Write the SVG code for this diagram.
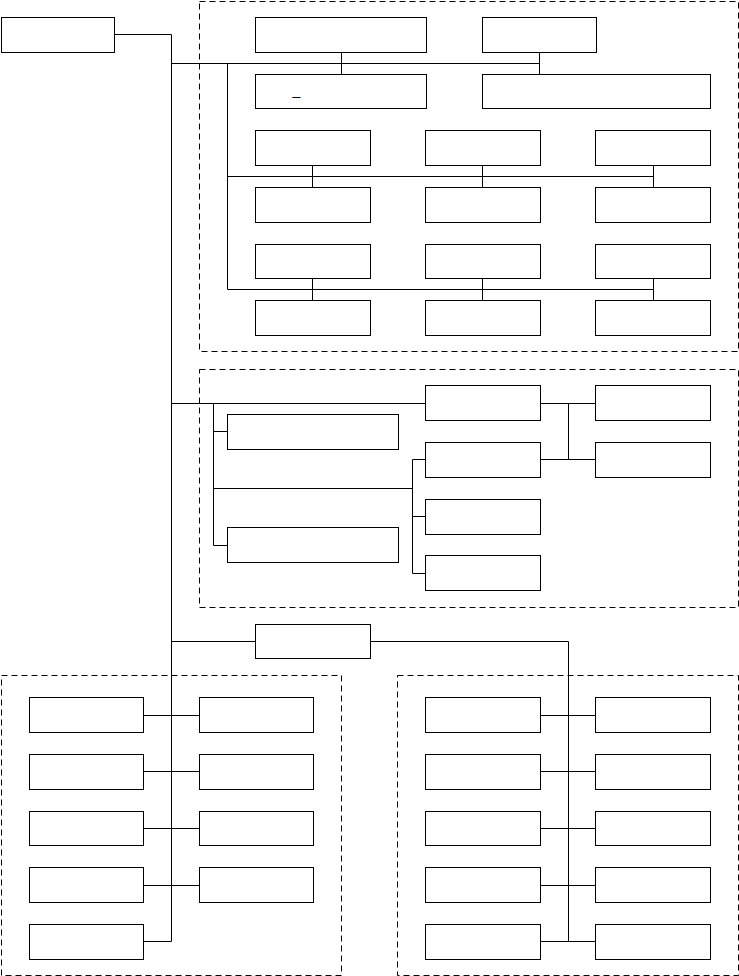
<svg xmlns="http://www.w3.org/2000/svg" width="739" height="976" viewBox="0 0 739 976">
<style>
.n{fill:#fff;stroke:#000;stroke-width:1}
.g{fill:none;stroke:#000;stroke-width:1;stroke-dasharray:6,4}
.c{fill:none;stroke:#000;stroke-width:1}
.t{font-family:"Liberation Sans",Arial,sans-serif;font-size:14px;fill:#000}
</style>
<rect width="739" height="976" fill="#fff"/>
<g id="groups">
<rect class="g" x="199.5" y="1.5" width="539" height="350"/>
<rect class="g" x="199.5" y="369.5" width="539" height="238"/>
<rect class="g" x="1.5" y="675.5" width="340" height="300"/>
<rect class="g" x="397.5" y="675.5" width="341" height="300"/>
</g>
<g id="connectors" class="c">
<path d="M114.5 34.5H171.5V941.5"/>
<path d="M171.5 63.5H539.5M341.5 52.5V74.5M539.5 52.5V74.5"/>
<path d="M227.5 63.5V289.5"/>
<path d="M227.5 176.5H653.5M312.5 165.5V187.5M482.5 165.5V187.5M653.5 165.5V187.5"/>
<path d="M227.5 289.5H653.5M312.5 278.5V300.5M482.5 278.5V300.5M653.5 278.5V300.5"/>
<path d="M171.5 403.5H425.5"/>
<path d="M213.5 403.5V545.5M213.5 431.5H227.5M213.5 545.5H227.5M213.5 488.5H412.5"/>
<path d="M412.5 459.5V573.5M412.5 459.5H425.5M412.5 516.5H425.5M412.5 573.5H425.5"/>
<path d="M540.5 403.5H595.5M568.5 403.5V459.5M540.5 459.5H595.5"/>
<path d="M171.5 641.5H255.5M370.5 641.5H568.5V941.5"/>
<path d="M143.5 715.5H199.5M143.5 771.5H199.5M143.5 828.5H199.5M143.5 885.5H199.5M143.5 941.5H171.5"/>
<path d="M540.5 715.5H595.5M540.5 771.5H595.5M540.5 828.5H595.5M540.5 885.5H595.5M540.5 941.5H595.5"/>
</g>
<g id="n0"><rect class="n" x="1.5" y="17.5" width="113" height="35"/></g>
<g id="n1"><rect class="n" x="255.5" y="17.5" width="171" height="35"/></g>
<g id="n2"><rect class="n" x="482.5" y="17.5" width="114" height="35"/></g>
<g id="n3"><rect class="n" x="255.5" y="74.5" width="171" height="34"/><text class="t" x="292.5" y="94.5">_</text></g>
<g id="n4"><rect class="n" x="482.5" y="74.5" width="228" height="34"/></g>
<g id="n5"><rect class="n" x="255.5" y="130.5" width="115" height="35"/></g>
<g id="n6"><rect class="n" x="425.5" y="130.5" width="115" height="35"/></g>
<g id="n7"><rect class="n" x="595.5" y="130.5" width="115" height="35"/></g>
<g id="n8"><rect class="n" x="255.5" y="187.5" width="115" height="35"/></g>
<g id="n9"><rect class="n" x="425.5" y="187.5" width="115" height="35"/></g>
<g id="n10"><rect class="n" x="595.5" y="187.5" width="115" height="35"/></g>
<g id="n11"><rect class="n" x="255.5" y="244.5" width="115" height="34"/></g>
<g id="n12"><rect class="n" x="425.5" y="244.5" width="115" height="34"/></g>
<g id="n13"><rect class="n" x="595.5" y="244.5" width="115" height="34"/></g>
<g id="n14"><rect class="n" x="255.5" y="300.5" width="115" height="35"/></g>
<g id="n15"><rect class="n" x="425.5" y="300.5" width="115" height="35"/></g>
<g id="n16"><rect class="n" x="595.5" y="300.5" width="115" height="35"/></g>
<g id="n17"><rect class="n" x="425.5" y="385.5" width="115" height="35"/></g>
<g id="n18"><rect class="n" x="595.5" y="385.5" width="115" height="35"/></g>
<g id="n19"><rect class="n" x="227.5" y="414.5" width="171" height="35"/></g>
<g id="n20"><rect class="n" x="425.5" y="442.5" width="115" height="35"/></g>
<g id="n21"><rect class="n" x="595.5" y="442.5" width="115" height="35"/></g>
<g id="n22"><rect class="n" x="425.5" y="499.5" width="115" height="35"/></g>
<g id="n23"><rect class="n" x="227.5" y="527.5" width="171" height="35"/></g>
<g id="n24"><rect class="n" x="425.5" y="555.5" width="115" height="35"/></g>
<g id="n25"><rect class="n" x="255.5" y="624.5" width="115" height="34"/></g>
<g id="n26"><rect class="n" x="29.5" y="697.5" width="114" height="35"/></g>
<g id="n27"><rect class="n" x="199.5" y="697.5" width="114" height="35"/></g>
<g id="n28"><rect class="n" x="29.5" y="754.5" width="114" height="35"/></g>
<g id="n29"><rect class="n" x="199.5" y="754.5" width="114" height="35"/></g>
<g id="n30"><rect class="n" x="29.5" y="811.5" width="114" height="34"/></g>
<g id="n31"><rect class="n" x="199.5" y="811.5" width="114" height="34"/></g>
<g id="n32"><rect class="n" x="29.5" y="867.5" width="114" height="35"/></g>
<g id="n33"><rect class="n" x="199.5" y="867.5" width="114" height="35"/></g>
<g id="n34"><rect class="n" x="29.5" y="924.5" width="114" height="35"/></g>
<g id="n35"><rect class="n" x="425.5" y="697.5" width="115" height="35"/></g>
<g id="n36"><rect class="n" x="595.5" y="697.5" width="115" height="35"/></g>
<g id="n37"><rect class="n" x="425.5" y="754.5" width="115" height="35"/></g>
<g id="n38"><rect class="n" x="595.5" y="754.5" width="115" height="35"/></g>
<g id="n39"><rect class="n" x="425.5" y="811.5" width="115" height="34"/></g>
<g id="n40"><rect class="n" x="595.5" y="811.5" width="115" height="34"/></g>
<g id="n41"><rect class="n" x="425.5" y="867.5" width="115" height="35"/></g>
<g id="n42"><rect class="n" x="595.5" y="867.5" width="115" height="35"/></g>
<g id="n43"><rect class="n" x="425.5" y="924.5" width="115" height="35"/></g>
<g id="n44"><rect class="n" x="595.5" y="924.5" width="115" height="35"/></g>
</svg>
